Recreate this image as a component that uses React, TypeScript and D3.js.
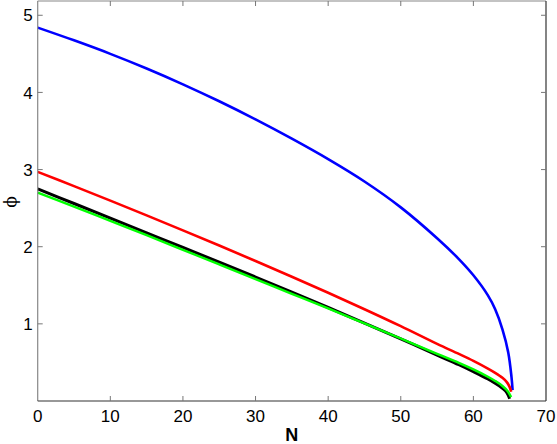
import { useEffect, useRef } from "react";
import * as d3 from "d3";

// N values (x) and phi values (y)
const blueN = [0, 5, 10, 15, 20, 25, 30, 35, 40, 45, 50, 55, 58, 60, 62, 63, 64, 64.8, 65.25, 65.4];
const blueY = [4.84, 4.675, 4.5, 4.31, 4.105, 3.885, 3.65, 3.4, 3.135, 2.845, 2.51, 2.11, 1.84, 1.63, 1.37, 1.19, 0.93, 0.63, 0.31, 0.14];

const redN = [0, 5, 10, 15, 20, 25, 30, 35, 40, 45, 50, 55, 58, 60, 62, 63, 64, 64.6, 65.0, 65.2];
const redY = [2.97, 2.785, 2.597, 2.406, 2.212, 2.015, 1.815, 1.611, 1.403, 1.19, 0.97, 0.74, 0.61, 0.52, 0.42, 0.365, 0.3, 0.245, 0.18, 0.12];

const blackN = [0, 5, 10, 15, 20, 25, 30, 35, 40, 45, 50, 55, 58, 60, 62, 63, 64, 64.6, 65.0];
const blackY = [2.75, 2.56, 2.37, 2.18, 1.99, 1.8, 1.607, 1.411, 1.212, 1.01, 0.805, 0.595, 0.47, 0.38, 0.285, 0.23, 0.165, 0.11, 0.03];

const greenN = [0, 5, 10, 15, 20, 25, 30, 35, 40, 45, 50, 55, 58, 60, 62, 63, 64, 64.7, 65.2];
const greenY = [2.7, 2.52, 2.335, 2.15, 1.96, 1.77, 1.58, 1.39, 1.2, 1.005, 0.81, 0.61, 0.495, 0.41, 0.315, 0.26, 0.195, 0.13, 0.05];

const xTicks = [0, 10, 20, 30, 40, 50, 60, 70];
const yTicks = [1, 2, 3, 4, 5];

const series = [
  { n: blueN, y: blueY, color: "#0000ff", w: 2.6 },
  { n: redN, y: redY, color: "#ff0000", w: 2.6 },
  { n: blackN, y: blackY, color: "#000000", w: 3 },
  { n: greenN, y: greenY, color: "#00ff00", w: 2.4 },
];

const App = () => {
  const svgRef = useRef<SVGSVGElement | null>(null);

  useEffect(() => {
    const width = 557;
    const height = 444;
    const margin = { top: 1, right: 11, bottom: 43, left: 37.7 };
    const innerWidth = width - margin.left - margin.right;
    const innerHeight = height - margin.top - margin.bottom;

    const svg = d3.select(svgRef.current);
    svg.selectAll("*").remove();

    const g = svg
      .append("g")
      .attr("transform", `translate(${margin.left},${margin.top})`);

    const x = d3.scaleLinear().domain([0, 70]).range([0, innerWidth]);
    const y = d3.scaleLinear().domain([0.0, 5.185]).range([innerHeight, 0]);

    const font = "'Liberation Sans', Arial, sans-serif";
    const tickLen = 5;

    // Curves
    const line = d3
      .line<[number, number]>()
      .x((d) => x(d[0]))
      .y((d) => y(d[1]))
      .curve(d3.curveCatmullRom.alpha(0.5));

    series.forEach((s) => {
      const pts = s.n.map((n, i) => [n, s.y[i]] as [number, number]);
      g.append("path")
        .datum(pts)
        .attr("fill", "none")
        .attr("stroke", s.color)
        .attr("stroke-width", s.w)
        .attr("stroke-linejoin", "round")
        .attr("d", line);
    });

    // Box
    g.append("line").attr("x1", 0).attr("x2", 0).attr("y1", 0).attr("y2", innerHeight).attr("stroke", "#888").attr("stroke-width", 1.2);
    g.append("line").attr("x1", 0).attr("x2", innerWidth).attr("y1", 0).attr("y2", 0).attr("stroke", "#888").attr("stroke-width", 1.2);
    g.append("line").attr("x1", 0).attr("x2", innerWidth).attr("y1", innerHeight).attr("y2", innerHeight).attr("stroke", "#333").attr("stroke-width", 1.2);
    g.append("line").attr("x1", innerWidth).attr("x2", innerWidth).attr("y1", 0).attr("y2", innerHeight).attr("stroke", "#333").attr("stroke-width", 1.2);

    // X ticks
    xTicks.forEach((t) => {
      const px = x(t);
      if (t > 0 && t < 70) {
        g.append("line").attr("x1", px).attr("x2", px).attr("y1", innerHeight).attr("y2", innerHeight - tickLen).attr("stroke", "#777");
        g.append("line").attr("x1", px).attr("x2", px).attr("y1", 0).attr("y2", tickLen).attr("stroke", "#777");
      }
      g.append("text")
        .attr("x", px)
        .attr("y", innerHeight + 21)
        .attr("text-anchor", "middle")
        .style("font-family", font)
        .style("font-size", "17px")
        .attr("fill", "#000")
        .text(t);
    });

    // Y ticks
    yTicks.forEach((t) => {
      const py = y(t);
      g.append("line").attr("x1", 0).attr("x2", tickLen).attr("y1", py).attr("y2", py).attr("stroke", "#777");
      g.append("line").attr("x1", innerWidth).attr("x2", innerWidth - tickLen).attr("y1", py).attr("y2", py).attr("stroke", "#777");
      g.append("text")
        .attr("x", -5)
        .attr("y", py)
        .attr("dy", "0.36em")
        .attr("text-anchor", "end")
        .style("font-family", font)
        .style("font-size", "17px")
        .attr("fill", "#000")
        .text(t);
    });

    // Axis labels
    svg
      .append("text")
      .attr("x", margin.left + innerWidth / 2)
      .attr("y", 441)
      .attr("text-anchor", "middle")
      .style("font-family", font)
      .style("font-size", "18px")
      .style("font-weight", "bold")
      .text("N");

    svg
      .append("text")
      .attr("transform", `translate(16,202) rotate(-90)`)
      .attr("text-anchor", "middle")
      .style("font-family", "'DejaVu Serif', serif")
      .style("font-size", "17px")
      .text("\u03d5");
  }, []);

  return <svg ref={svgRef} width={557} height={444} style={{ display: "block", position: "absolute", left: 0, top: 0 }} />;
};

export default App;
